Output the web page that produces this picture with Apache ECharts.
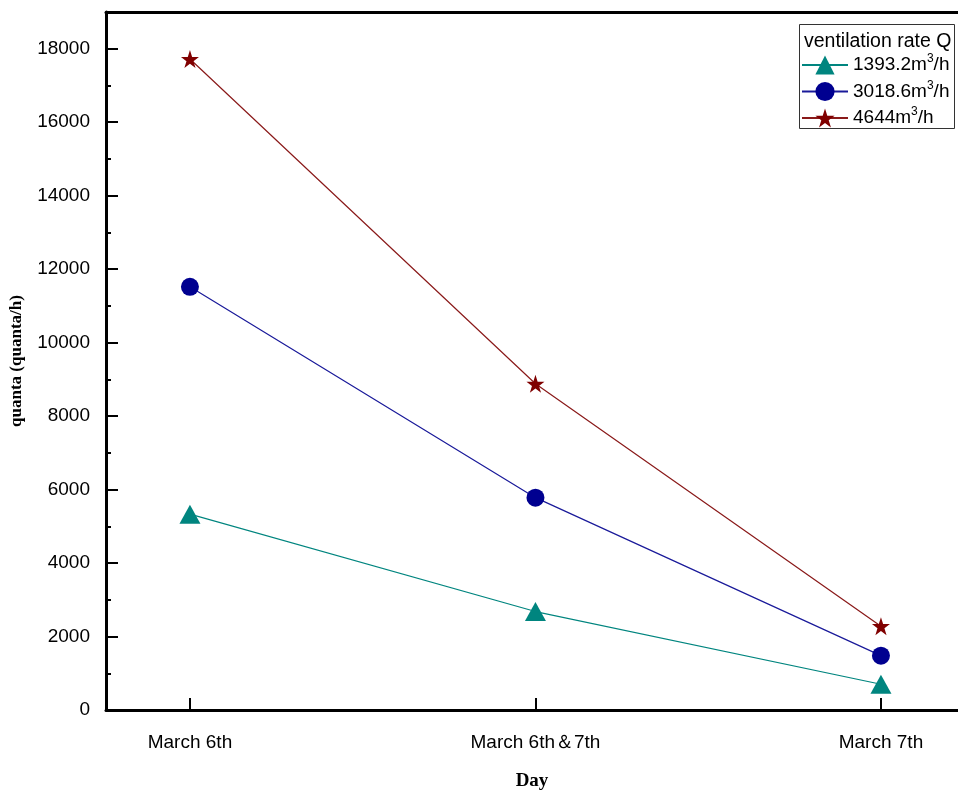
<!DOCTYPE html>
<html><head><meta charset="utf-8">
<script src="https://cdn.jsdelivr.net/npm/echarts@6/dist/echarts.min.js"></script>
<style>html,body{margin:0;padding:0;background:#fff}#c{width:958px;height:790px}</style>
</head><body><div id="c"></div>
<script>
var categories = ['March 6th', 'March 6th\uFF067th', 'March 7th'];
var seriesNames = ['1393.2m{sup|3}/h', '3018.6m{sup|3}/h', '4644m{sup|3}/h'];
var q1393 = [5330, 2680, 700];
var q3018 = [11520, 5780, 1480];
var q4644 = [17720, 8880, 2280];
var yTicks = [0, 2000, 4000, 6000, 8000, 10000, 12000, 14000, 16000, 18000];

var chart = echarts.init(document.getElementById('c'));
function pts(arr){ return arr.map(function(v,i){ return [i, v]; }); }
var idx = categories.map(function(c,i){return i;});
var FONT = 'Liberation Sans, Arial';
chart.setOption({
  animation: false,
  grid: { left: 106, top: 12, width: 852, height: 698, outerBoundsMode: 'none', containLabel: false },
  title: { text: 'ventilation rate Q', left: 799, top: 27,
    textStyle: { fontFamily: FONT, fontSize: 19.5, fontWeight: 'normal', color: '#000' } },
  graphic: [{ type: 'rect', shape: { x: 799.5, y: 24.5, width: 155, height: 104 },
    style: { fill: 'none', stroke: '#333', lineWidth: 1 }, silent: true }],
  legend: {
    left: 799, top: 24, orient: 'vertical', padding: [29, 5, 0, 2],
    itemWidth: 46, itemHeight: 24, itemGap: 2.5,
    textStyle: { fontFamily: FONT, fontSize: 19, color: '#000', lineHeight: 24,
      rich: { sup: { fontSize: 12, verticalAlign: 'top', padding: [0,0,9,0], fontFamily: FONT, color:'#000' } } },
    data: seriesNames
  },
  xAxis: [{
    type: 'value', min: -0.243, max: 2.223,
    axisLine: { show: true, onZero: false, lineStyle: { color: '#000', width: 3 } },
    axisTick: { show: true, inside: true, length: 12, customValues: idx, lineStyle: { color: '#000', width: 2 } },
    axisLabel: { customValues: idx, margin: 23, fontFamily: FONT, fontSize: 19, color: '#000',
      formatter: function(v){ return categories[Math.round(v)] || ''; } },
    splitLine: { show: false },
    name: 'Day', nameLocation: 'middle', nameGap: 62,
    nameTextStyle: { fontFamily: 'Liberation Serif, Times New Roman', fontWeight: 'bold', fontSize: 19, color: '#000' }
  }, {
    type: 'value', position: 'top', min: -0.243, max: 2.223,
    axisLine: { show: true, onZero: false, lineStyle: { color: '#000', width: 3 } },
    axisTick: { show: false }, axisLabel: { show: false }, splitLine: { show: false }
  }],
  yAxis: [{
    type: 'value', min: 0, max: 19000, interval: 2000,
    axisLine: { show: true, onZero: false, lineStyle: { color: '#000', width: 3 } },
    axisTick: { show: true, inside: true, length: 12, customValues: yTicks, lineStyle: { color: '#000', width: 2 } },
    minorTick: { show: true, splitNumber: 2, length: 5, lineStyle: { color: '#000', width: 2 } },
    axisLabel: { customValues: yTicks, margin: 16, fontFamily: FONT, fontSize: 19, color: '#000',
      formatter: function(v){ return String(v); } },
    splitLine: { show: false },
    name: 'quanta (quanta/h)', nameLocation: 'middle', nameGap: 81, nameRotate: 90,
    nameTextStyle: { fontFamily: 'Liberation Serif, Times New Roman', fontWeight: 'bold', fontSize: 17, color: '#000' }
  }],
  series: [
    { name: seriesNames[0], type: 'line', data: pts(q1393), symbol: 'triangle', symbolSize: [21, 19],
      itemStyle: { color: '#00857F' }, lineStyle: { color: '#00857F', width: 1.2 } },
    { name: seriesNames[1], type: 'line', data: pts(q3018), symbol: 'circle', symbolSize: 18,
      itemStyle: { color: '#000090' }, lineStyle: { color: '#1a1a9a', width: 1.2 } },
    { name: seriesNames[2], type: 'line', data: pts(q4644), symbol: 'path://M50,0 L61.8,35.4 L99,35.4 L69,57.3 L80.4,92.7 L50,70.8 L19.6,92.7 L31,57.3 L1,35.4 L38.2,35.4 Z', symbolSize: 18,
      itemStyle: { color: '#800000' }, lineStyle: { color: '#8a1a1a', width: 1.2 } }
  ]
});
</script></body></html>
